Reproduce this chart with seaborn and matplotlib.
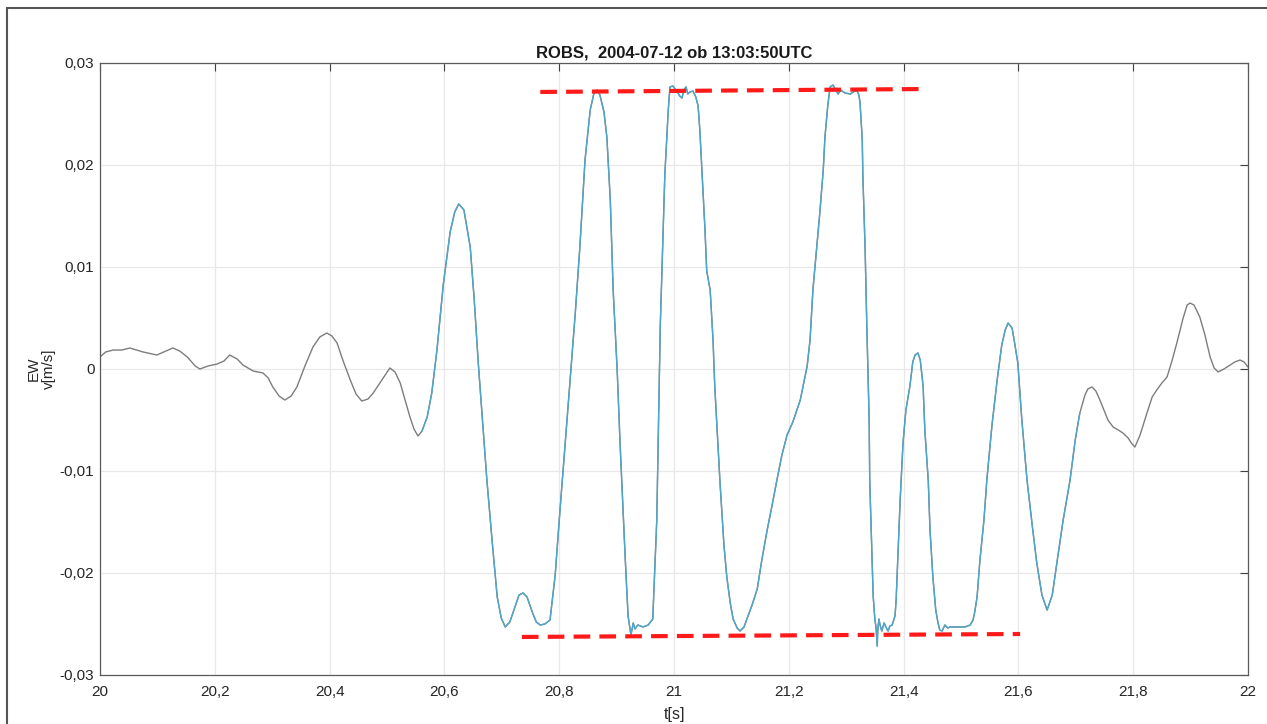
import numpy as np
import pandas as pd
import matplotlib
matplotlib.use("Agg")
import matplotlib.pyplot as plt
from matplotlib.ticker import FuncFormatter, MultipleLocator
from matplotlib.patches import Rectangle
import seaborn as sns

# EW velocity trace (t in s, v in m/s)
t = [20.000, 20.010, 20.023, 20.038, 20.052, 20.075, 20.099, 20.115, 20.127, 20.139,
     20.152, 20.166, 20.174, 20.188, 20.204, 20.216, 20.226, 20.239, 20.249, 20.267,
     20.284, 20.293, 20.301, 20.312, 20.322, 20.333, 20.343, 20.357, 20.371, 20.383,
     20.395, 20.404, 20.413, 20.423, 20.436, 20.446, 20.456, 20.467, 20.476, 20.491,
     20.505, 20.514, 20.523, 20.531, 20.540, 20.547, 20.554, 20.561, 20.570, 20.578,
     20.587, 20.598, 20.610, 20.618, 20.625, 20.634, 20.645, 20.652, 20.659, 20.667,
     20.674, 20.683, 20.692, 20.699, 20.706, 20.714, 20.723, 20.730, 20.737, 20.744,
     20.753, 20.760, 20.767, 20.775, 20.784, 20.793, 20.801, 20.810, 20.819, 20.828,
     20.836, 20.845, 20.854, 20.861, 20.866, 20.871, 20.878, 20.883, 20.889, 20.894,
     20.901, 20.906, 20.915, 20.920, 20.925, 20.929, 20.932, 20.937, 20.946, 20.955,
     20.963, 20.970, 20.976, 20.984, 20.990, 20.993, 20.998, 21.002, 21.007, 21.010,
     21.014, 21.017, 21.021, 21.024, 21.028, 21.033, 21.038, 21.042, 21.045, 21.049,
     21.054, 21.057, 21.063, 21.068, 21.071, 21.080, 21.087, 21.092, 21.098, 21.103,
     21.110, 21.115, 21.122, 21.127, 21.136, 21.145, 21.153, 21.162, 21.171, 21.179,
     21.188, 21.197, 21.207, 21.220, 21.232, 21.237, 21.242, 21.249, 21.254, 21.260,
     21.263, 21.268, 21.272, 21.277, 21.282, 21.286, 21.289, 21.293, 21.298, 21.307,
     21.315, 21.319, 21.322, 21.324, 21.328, 21.329, 21.333, 21.336, 21.340, 21.341,
     21.345, 21.347, 21.350, 21.352, 21.354, 21.355, 21.357, 21.359, 21.362, 21.366,
     21.371, 21.373, 21.376, 21.380, 21.385, 21.387, 21.390, 21.394, 21.399, 21.404,
     21.411, 21.416, 21.420, 21.425, 21.429, 21.434, 21.437, 21.443, 21.446, 21.451,
     21.456, 21.460, 21.463, 21.467, 21.472, 21.477, 21.481, 21.490, 21.498, 21.507,
     21.516, 21.521, 21.524, 21.528, 21.533, 21.540, 21.545, 21.554, 21.563, 21.571,
     21.577, 21.582, 21.589, 21.594, 21.599, 21.606, 21.615, 21.624, 21.632, 21.641,
     21.650, 21.659, 21.667, 21.678, 21.690, 21.699, 21.707, 21.716, 21.721, 21.728,
     21.735, 21.742, 21.747, 21.756, 21.765, 21.774, 21.782, 21.791, 21.798, 21.803,
     21.812, 21.824, 21.833, 21.841, 21.850, 21.859, 21.868, 21.876, 21.887, 21.894,
     21.899, 21.906, 21.916, 21.925, 21.934, 21.941, 21.948, 21.958, 21.969, 21.977,
     21.986, 21.993, 22.000]
v = [0.00118, 0.00167, 0.00186, 0.00186, 0.00206, 0.00167, 0.00137, 0.00176, 0.00206, 0.00176,
     0.00118, 0.00029, 0.00000, 0.00029, 0.00049, 0.00078, 0.00137, 0.00098, 0.00039, -0.00020,
     -0.00039, -0.00088, -0.00176, -0.00265, -0.00304, -0.00265, -0.00176, 0.00029, 0.00216, 0.00314,
     0.00353, 0.00324, 0.00255, 0.00088, -0.00108, -0.00245, -0.00314, -0.00294, -0.00235, -0.00108,
     0.00010, -0.00029, -0.00137, -0.00294, -0.00471, -0.00588, -0.00657, -0.00608, -0.00471, -0.00235,
     0.00186, 0.00824, 0.01343, 0.01539, 0.01618, 0.01559, 0.01196, 0.00676, 0.00059, -0.00549,
     -0.01088, -0.01676, -0.02235, -0.02441, -0.02529, -0.02480, -0.02333, -0.02216, -0.02196, -0.02235,
     -0.02382, -0.02480, -0.02510, -0.02500, -0.02461, -0.02020, -0.01412, -0.00765, -0.00108, 0.00549,
     0.01196, 0.02049, 0.02539, 0.02716, 0.02735, 0.02686, 0.02520, 0.02275, 0.01657, 0.00775,
     -0.00010, -0.00725, -0.01853, -0.02422, -0.02608, -0.02490, -0.02549, -0.02510, -0.02529, -0.02510,
     -0.02451, -0.01480, 0.00402, 0.01902, 0.02539, 0.02765, 0.02775, 0.02745, 0.02706, 0.02676,
     0.02657, 0.02735, 0.02765, 0.02696, 0.02716, 0.02725, 0.02667, 0.02578, 0.02343, 0.01902,
     0.01363, 0.00961, 0.00775, 0.00284, -0.00167, -0.01098, -0.01725, -0.02039, -0.02294, -0.02451,
     -0.02539, -0.02569, -0.02529, -0.02451, -0.02314, -0.02157, -0.01873, -0.01588, -0.01333, -0.01098,
     -0.00843, -0.00647, -0.00520, -0.00304, 0.00029, 0.00284, 0.00775, 0.01216, 0.01529, 0.01951,
     0.02275, 0.02588, 0.02765, 0.02784, 0.02735, 0.02696, 0.02725, 0.02725, 0.02706, 0.02696,
     0.02725, 0.02725, 0.02686, 0.02618, 0.02245, 0.01902, 0.01167, 0.00402, -0.00500, -0.01098,
     -0.01873, -0.02225, -0.02461, -0.02529, -0.02716, -0.02559, -0.02451, -0.02510, -0.02569, -0.02490,
     -0.02549, -0.02569, -0.02520, -0.02510, -0.02422, -0.02265, -0.01853, -0.01284, -0.00725, -0.00402,
     -0.00167, 0.00069, 0.00137, 0.00157, 0.00088, -0.00167, -0.00598, -0.01098, -0.01578, -0.02039,
     -0.02363, -0.02490, -0.02559, -0.02569, -0.02510, -0.02539, -0.02529, -0.02529, -0.02529, -0.02529,
     -0.02510, -0.02460, -0.02380, -0.02235, -0.01873, -0.01480, -0.01088, -0.00549, -0.00108, 0.00235,
     0.00382, 0.00451, 0.00402, 0.00235, 0.00059, -0.00500, -0.01088, -0.01529, -0.01902, -0.02216,
     -0.02363, -0.02216, -0.01902, -0.01480, -0.01088, -0.00696, -0.00431, -0.00255, -0.00196, -0.00176,
     -0.00216, -0.00304, -0.00373, -0.00500, -0.00569, -0.00598, -0.00627, -0.00676, -0.00735, -0.00765,
     -0.00647, -0.00431, -0.00275, -0.00206, -0.00137, -0.00078, 0.00088, 0.00255, 0.00500, 0.00627,
     0.00647, 0.00627, 0.00510, 0.00333, 0.00118, 0.00010, -0.00029, 0.00000, 0.00039, 0.00069,
     0.00088, 0.00069, 0.00020]

# saturation level markers (start/end points)
top_t = [20.767, 21.437]
top_v = [0.02716, 0.02745]
bot_t = [20.735, 21.603]
bot_v = [-0.02627, -0.02598]

# strong-motion part drawn in blue
strong_start, strong_end = 20.56, 21.71

df = pd.DataFrame({"t": t, "v": v})
strong = df[(df.t >= strong_start) & (df.t <= strong_end)]

sns.set_theme(style="whitegrid")
plt.rcParams['font.family'] = ['Liberation Sans', 'DejaVu Sans']

fig = plt.figure(figsize=(12.67, 7.24), dpi=100)
ax = fig.add_axes([100 / 1267, 1 - 675 / 724, 1148 / 1267, 612 / 724])
ax.set_facecolor("white")

sns.lineplot(data=df, x="t", y="v", sort=False, estimator=None,
             color="#7d7d7d", lw=1.0, ax=ax)
sns.lineplot(data=strong, x="t", y="v", sort=False, estimator=None,
             color="#4ea6ca", lw=1.0, ax=ax)

ax.plot(top_t, top_v, color="#ff1a1a", lw=3, dashes=(4, 2.2))
ax.plot(bot_t, bot_v, color="#ff1a1a", lw=3, dashes=(4, 2.2))

ax.set_xlim(20, 22)
ax.set_ylim(-0.03, 0.03)
ax.xaxis.set_major_locator(MultipleLocator(0.2))
ax.yaxis.set_major_locator(MultipleLocator(0.01))


def comma_fmt(x, pos):
    s = f"{x:.2f}".rstrip("0").rstrip(".")
    if s in ("-0", ""):
        s = "0"
    return s.replace(".", ",")


ax.xaxis.set_major_formatter(FuncFormatter(comma_fmt))
ax.yaxis.set_major_formatter(FuncFormatter(comma_fmt))

ax.grid(True, color="#e8e8e8", lw=0.9)
ax.tick_params(direction="in", length=6, width=0.8, color="#404040",
               top=True, right=True, labelsize=11, labelcolor="#262626", pad=4)
ax.tick_params(axis="x", pad=7)
for sp in ax.spines.values():
    sp.set_color("#5a5a5a")
    sp.set_linewidth(0.9)

ax.set_title("ROBS,  2004-07-12 ob 13:03:50UTC", fontsize=12, fontweight="bold",
             color="#1a1a1a", pad=4)
ax.set_xlabel("t[s]", fontsize=11.5, color="#262626", labelpad=6)
ax.set_ylabel("EW\nv[m/s]", fontsize=11, color="#262626", labelpad=3,
              linespacing=1.1)

# frame around the figure
fig.patches.append(Rectangle((7 / 1267, -0.05), 1.1, 1.05 - 8 / 724,
                             transform=fig.transFigure, fill=False,
                             edgecolor="#555555", lw=1.5))

fig.savefig("out.png", dpi=100)
